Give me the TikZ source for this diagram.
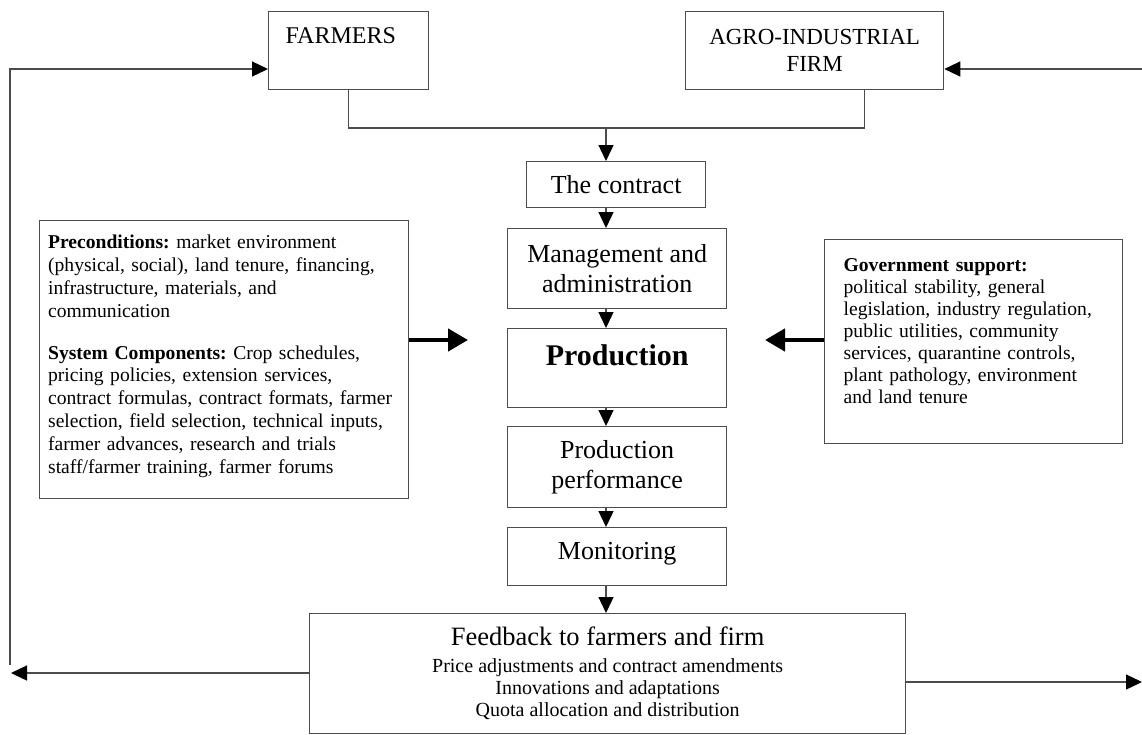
\documentclass[tikz,border=0pt]{standalone}
\usepackage{fontspec}
\setmainfont{Liberation Serif}
\usetikzlibrary{arrows.meta}
\frenchspacing
\begin{document}
\begin{tikzpicture}[x=1pt,y=-1pt,
  box/.style={draw=black!70, line width=1.3pt, inner sep=0pt, anchor=north west},
  conn/.style={draw=black!70, line width=1.3pt},
  arr/.style={conn, -{Triangle[length=16pt,width=15pt,color=black]}},
  fatarr/.style={draw=black, line width=4.5pt, -{Triangle[length=20pt,width=22pt]}},
  midtext/.style={font=\fontsize{26}{30}\selectfont, align=center},
  sidetext/.style={align=left}
]
\useasboundingbox (0,0) rectangle (1142,734);

% top boxes
\node[box, minimum width=160pt, minimum height=78pt, text height=17pt, text depth=31pt,
      font=\fontsize{24}{28}\selectfont] (farmers) at (268,11) {\makebox[126pt][l]{FARMERS}};
\node[box, minimum width=258pt, minimum height=78pt, align=center,
      font=\fontsize{23}{27}\selectfont] (agro) at (685,11) {AGRO-INDUSTRIAL\\FIRM};

% central chain
\node[box, minimum width=179pt, minimum height=46pt, text height=18pt, text depth=0pt, midtext] (contract) at (526,161) {The contract};
\node[box, minimum width=219pt, minimum height=80pt, midtext] (mgmt) at (507,228) {Management and\\administration};
\node[box, minimum width=219pt, minimum height=79pt, text height=21pt, text depth=26pt,
      font=\fontsize{30}{34}\selectfont\bfseries] (prod) at (507,328) {Production};
\node[box, minimum width=219pt, minimum height=81pt, midtext] (perf) at (507,426) {Production\\performance};
\node[box, minimum width=219pt, minimum height=58pt, text height=18pt, text depth=12pt, midtext] (mon) at (507,527) {Monitoring};

% side boxes
\node[box, minimum width=369pt, minimum height=278pt, text width=352pt, sidetext,
      font=\fontsize{19.6}{22.9}\selectfont\frenchspacing] (pre) at (39,220)
  {\textbf{Preconditions:} market environment\\
   (physical, social), land tenure, financing,\\
   infrastructure, materials, and\\
   communication\\[19pt]
   \textbf{System Components:} Crop schedules,\\
   pricing policies, extension services,\\
   contract formulas, contract formats, farmer\\
   selection, field selection, technical inputs,\\
   farmer advances, research and trials\\
   staff/farmer training, farmer forums\\[-12pt]\mbox{}};
\node[box, minimum width=298pt, minimum height=204pt, text width=260pt, sidetext,
      font=\fontsize{19.6}{22}\selectfont\frenchspacing] (gov) at (824,239)
  {\textbf{Government support:}\\
   political stability, general\\
   legislation, industry regulation,\\
   public utilities, community\\
   services, quarantine controls,\\
   plant pathology, environment\\
   and land tenure\\\mbox{}};

% feedback
\node[box, minimum width=596pt, minimum height=120pt, align=center,
      font=\fontsize{20}{21.7}\selectfont] (fb) at (309,613)
  {{\fontsize{26.5}{21.7}\selectfont Feedback to farmers and firm}\\[5.3pt]
   Price adjustments and contract amendments\\
   Innovations and adaptations\\
   Quota allocation and distribution\\[-17.7pt]\mbox{}};

% coordinates
\coordinate (j) at (606,128);
\coordinate (lc) at (10,69);
\coordinate (lb) at (10,665);
\coordinate (rc) at (1142,69);
\coordinate (ll) at (11,673);
\coordinate (rr) at (1142,682);
\coordinate (ta) at (468,340);
\coordinate (tb) at (765,340);

% top merge
\draw[conn] (farmers.south) |- ([xshift=50pt]agro.south |- j) -- ([xshift=50pt]agro.south);
\draw[arr] (j) -- (j |- contract.north);

% chain arrows
\draw[arr] (contract.south -| j) -- (mgmt.north -| j);
\draw[arr] (mgmt.south -| j) -- (prod.north -| j);
\draw[arr] (prod.south -| j) -- (perf.north -| j);
\draw[arr] (perf.south -| j) -- (mon.north -| j);
\draw[arr] (mon.south -| j) -- (fb.north -| j);

% side thick arrows
\draw[fatarr] (ta -| pre.east) -- (ta);
\draw[fatarr] (tb -| gov.west) -- (tb);

% feedback loops
\draw[arr] (fb.west |- ll) -- (ll);
\draw[arr] (lb) -- (lc) -- (lc -| farmers.west);
\draw[arr] (fb.east |- rr) -- (rr);
\draw[arr] (rc) -- (rc -| agro.east);
\end{tikzpicture}
\end{document}
